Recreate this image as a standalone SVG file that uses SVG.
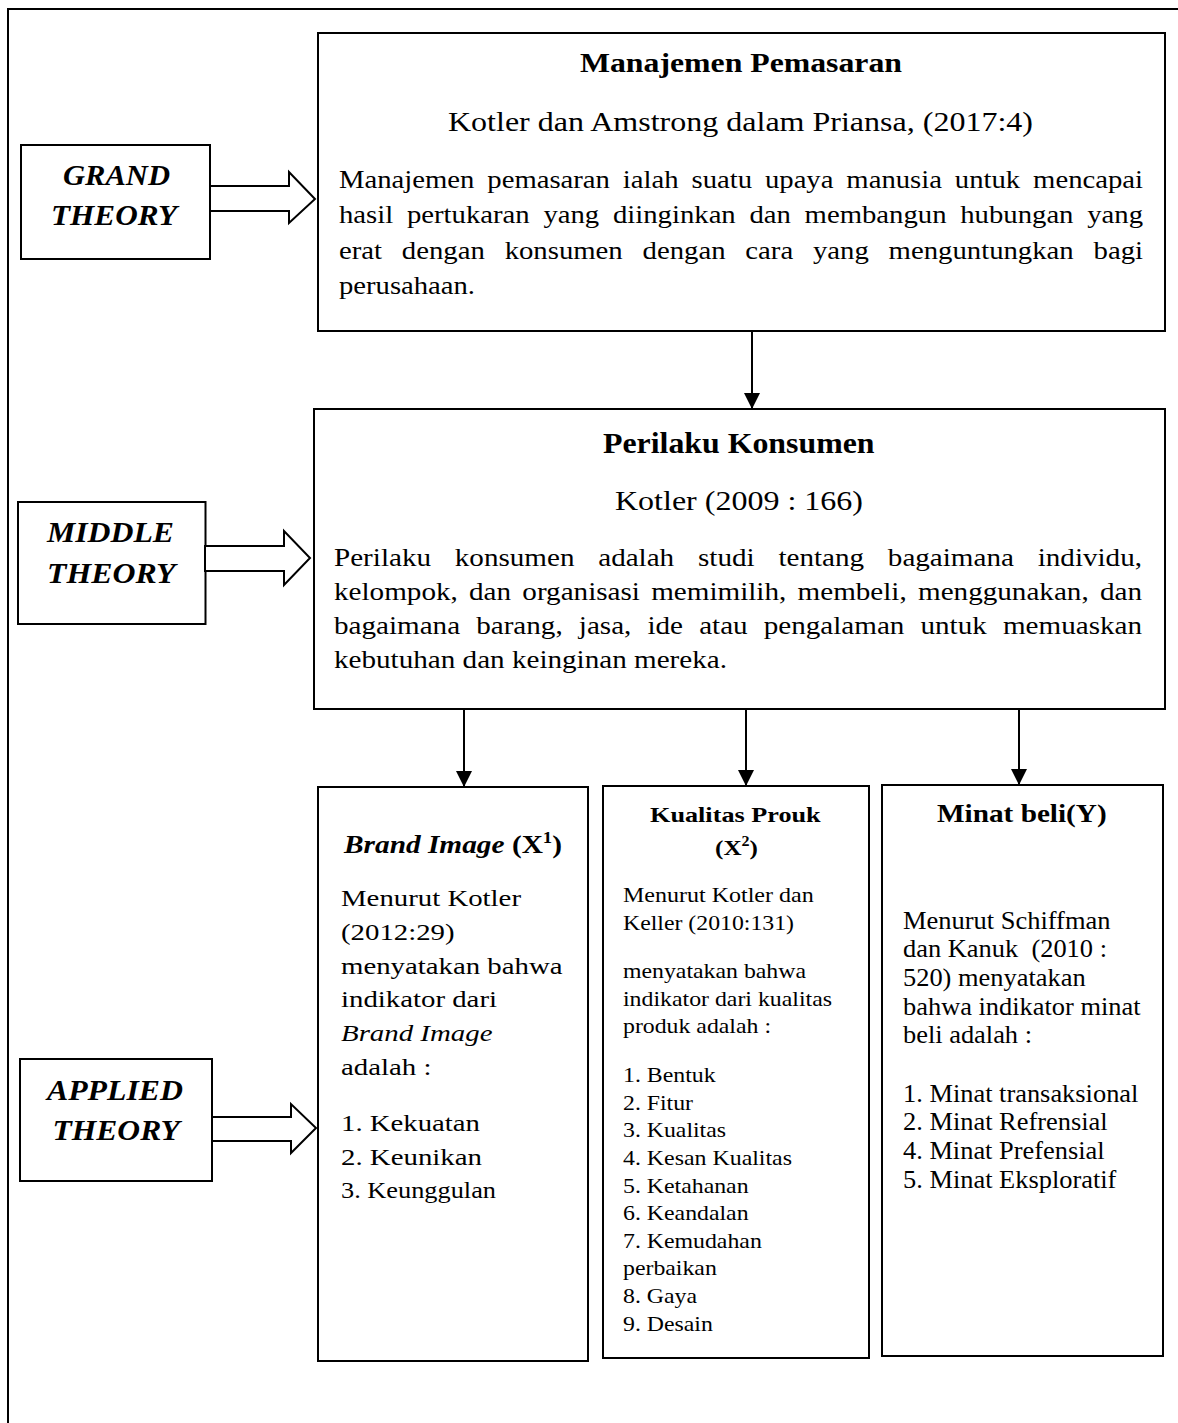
<svg xmlns="http://www.w3.org/2000/svg" width="1178" height="1423" viewBox="0 0 1178 1423">
<defs>
<style>
.box{fill:#fff;stroke:#000;stroke-width:2}
.t{font-family:"Liberation Serif","Times New Roman",serif;fill:#000}
.b{font-weight:bold}
.i{font-style:italic}
.conn{stroke:#000;stroke-width:2;fill:none}
.blk{fill:#fff;stroke:#000;stroke-width:2;stroke-linejoin:miter}
</style>
<marker id="ah" viewBox="0 0 16 16" refX="16" refY="8" markerWidth="16" markerHeight="16" markerUnits="userSpaceOnUse" orient="auto">
<path d="M0,0 L16,8 L0,16 z" fill="#000"/>
</marker>
</defs>
<rect x="0" y="0" width="1178" height="1423" fill="#fff"/>
<rect id="frame" x="8" y="9" width="1200" height="1440" fill="none" stroke="#000" stroke-width="2"/>

<g id="grand-theory">
<rect class="box" x="21" y="145" width="189" height="114"/>
<text class="t b i" font-size="30" x="63" y="185" textLength="107" lengthAdjust="spacingAndGlyphs">GRAND</text>
<text class="t b i" font-size="30" x="51" y="225" textLength="126" lengthAdjust="spacingAndGlyphs">THEORY</text>
</g>

<g id="middle-theory">
<rect class="box" x="18" y="502" width="187.5" height="122"/>
<text class="t b i" font-size="30" x="47" y="542" textLength="127" lengthAdjust="spacingAndGlyphs">MIDDLE</text>
<text class="t b i" font-size="30" x="47" y="583" textLength="128.5" lengthAdjust="spacingAndGlyphs">THEORY</text>
</g>

<g id="applied-theory">
<rect class="box" x="20" y="1059" width="192" height="122"/>
<text class="t b i" font-size="30" x="47" y="1100" textLength="136" lengthAdjust="spacingAndGlyphs">APPLIED</text>
<text class="t b i" font-size="30" x="52.5" y="1140" textLength="127.4" lengthAdjust="spacingAndGlyphs">THEORY</text>
</g>

<g id="manajemen-pemasaran">
<rect class="box" x="318" y="33" width="847" height="298"/>
<text class="t b" font-size="27" x="580" y="71.5" textLength="322" lengthAdjust="spacingAndGlyphs">Manajemen Pemasaran</text>
<text class="t" font-size="27" x="448" y="131" textLength="585" lengthAdjust="spacingAndGlyphs">Kotler dan Amstrong dalam Priansa, (2017:4)</text>
<text class="t" font-size="25" x="339" y="187.5" textLength="804" lengthAdjust="spacingAndGlyphs" style="word-spacing:5px">Manajemen pemasaran ialah suatu upaya manusia untuk mencapai</text>
<text class="t" font-size="25" x="339" y="223" textLength="804" lengthAdjust="spacingAndGlyphs" style="word-spacing:5.7px">hasil pertukaran yang diinginkan dan membangun hubungan yang</text>
<text class="t" font-size="25" x="339" y="258.5" textLength="804" lengthAdjust="spacingAndGlyphs" style="word-spacing:11px">erat dengan konsumen dengan cara yang menguntungkan bagi</text>
<text class="t" font-size="25" x="339" y="294" textLength="136" lengthAdjust="spacingAndGlyphs">perusahaan.</text>
</g>

<g id="perilaku-konsumen">
<rect class="box" x="314" y="409" width="851" height="300"/>
<text class="t b" font-size="28.5" x="603" y="453" textLength="271.5" lengthAdjust="spacingAndGlyphs">Perilaku Konsumen</text>
<text class="t" font-size="27" x="615" y="510" textLength="248" lengthAdjust="spacingAndGlyphs">Kotler (2009 : 166)</text>
<text class="t" font-size="25" x="334" y="566" textLength="808" lengthAdjust="spacingAndGlyphs" style="word-spacing:14.2px">Perilaku konsumen adalah studi tentang bagaimana individu,</text>
<text class="t" font-size="25" x="334" y="600" textLength="808" lengthAdjust="spacingAndGlyphs" style="word-spacing:3.4px">kelompok, dan organisasi memimilih, membeli, menggunakan, dan</text>
<text class="t" font-size="25" x="334" y="634" textLength="808" lengthAdjust="spacingAndGlyphs" style="word-spacing:7.6px">bagaimana barang, jasa, ide atau pengalaman untuk memuaskan</text>
<text class="t" font-size="25" x="334" y="668" textLength="393" lengthAdjust="spacingAndGlyphs">kebutuhan dan keinginan mereka.</text>
</g>

<g id="brand-image">
<rect class="box" x="318" y="787" width="270" height="574"/>
<text class="t b" font-size="25" x="344" y="853" textLength="218" lengthAdjust="spacingAndGlyphs"><tspan class="i">Brand Image</tspan> (X<tspan font-size="16" dy="-10">1</tspan><tspan dy="10">)</tspan></text>
<text class="t" font-size="24" x="341" y="906" textLength="180" lengthAdjust="spacingAndGlyphs">Menurut Kotler</text>
<text class="t" font-size="24" x="341" y="940" textLength="113.6" lengthAdjust="spacingAndGlyphs">(2012:29)</text>
<text class="t" font-size="24" x="341" y="974" textLength="221.5" lengthAdjust="spacingAndGlyphs">menyatakan bahwa</text>
<text class="t" font-size="24" x="341" y="1007" textLength="156" lengthAdjust="spacingAndGlyphs">indikator dari</text>
<text class="t i" font-size="24" x="341" y="1041" textLength="151.5" lengthAdjust="spacingAndGlyphs">Brand Image</text>
<text class="t" font-size="24" x="341" y="1075" textLength="90.4" lengthAdjust="spacingAndGlyphs">adalah :</text>
<text class="t" font-size="24" x="341" y="1131" textLength="139" lengthAdjust="spacingAndGlyphs">1. Kekuatan</text>
<text class="t" font-size="24" x="341" y="1165" textLength="141" lengthAdjust="spacingAndGlyphs">2. Keunikan</text>
<text class="t" font-size="24" x="341" y="1198" textLength="155" lengthAdjust="spacingAndGlyphs">3. Keunggulan</text>
</g>

<g id="kualitas-produk">
<rect class="box" x="603" y="786" width="266" height="572"/>
<text class="t b" font-size="22" x="650" y="822" textLength="170.7" lengthAdjust="spacingAndGlyphs">Kualitas Prouk</text>
<text class="t b" font-size="22" x="715" y="855" textLength="43" lengthAdjust="spacingAndGlyphs">(X<tspan font-size="14" dy="-9">2</tspan><tspan dy="9">)</tspan></text>
<text class="t" font-size="21" x="623" y="902" textLength="190.7" lengthAdjust="spacingAndGlyphs">Menurut Kotler dan</text>
<text class="t" font-size="21" x="623" y="930" textLength="171" lengthAdjust="spacingAndGlyphs">Keller (2010:131)</text>
<text class="t" font-size="21" x="623" y="978" textLength="183" lengthAdjust="spacingAndGlyphs">menyatakan bahwa</text>
<text class="t" font-size="21" x="623" y="1006" textLength="209" lengthAdjust="spacingAndGlyphs">indikator dari kualitas</text>
<text class="t" font-size="21" x="623" y="1033" textLength="148" lengthAdjust="spacingAndGlyphs">produk adalah :</text>
<text class="t" font-size="21" x="623" y="1082" textLength="92.6" lengthAdjust="spacingAndGlyphs">1. Bentuk</text>
<text class="t" font-size="21" x="623" y="1110" textLength="70" lengthAdjust="spacingAndGlyphs">2. Fitur</text>
<text class="t" font-size="21" x="623" y="1137" textLength="103" lengthAdjust="spacingAndGlyphs">3. Kualitas</text>
<text class="t" font-size="21" x="623" y="1165" textLength="169" lengthAdjust="spacingAndGlyphs">4. Kesan Kualitas</text>
<text class="t" font-size="21" x="623" y="1193" textLength="125.6" lengthAdjust="spacingAndGlyphs">5. Ketahanan</text>
<text class="t" font-size="21" x="623" y="1220" textLength="125.6" lengthAdjust="spacingAndGlyphs">6. Keandalan</text>
<text class="t" font-size="21" x="623" y="1248" textLength="138.8" lengthAdjust="spacingAndGlyphs">7. Kemudahan</text>
<text class="t" font-size="21" x="623" y="1275" textLength="93.8" lengthAdjust="spacingAndGlyphs">perbaikan</text>
<text class="t" font-size="21" x="623" y="1303" textLength="74" lengthAdjust="spacingAndGlyphs">8. Gaya</text>
<text class="t" font-size="21" x="623" y="1331" textLength="89.9" lengthAdjust="spacingAndGlyphs">9. Desain</text>
</g>

<g id="minat-beli">
<rect class="box" x="882" y="785" width="281" height="571"/>
<text class="t b" font-size="24.5" x="937" y="822" textLength="169.7" lengthAdjust="spacingAndGlyphs">Minat beli(Y)</text>
<text class="t" font-size="25.5" x="903" y="929" textLength="207.5" lengthAdjust="spacingAndGlyphs">Menurut Schiffman</text>
<text class="t" font-size="25.5" x="903" y="957" textLength="204" lengthAdjust="spacingAndGlyphs" xml:space="preserve">dan Kanuk  (2010 :</text>
<text class="t" font-size="25.5" x="903" y="986" textLength="182.6" lengthAdjust="spacingAndGlyphs">520) menyatakan</text>
<text class="t" font-size="25.5" x="903" y="1015" textLength="237.6" lengthAdjust="spacingAndGlyphs">bahwa indikator minat</text>
<text class="t" font-size="25.5" x="903" y="1043" textLength="129" lengthAdjust="spacingAndGlyphs">beli adalah :</text>
<text class="t" font-size="25.5" x="903" y="1102" textLength="235.4" lengthAdjust="spacingAndGlyphs">1. Minat transaksional</text>
<text class="t" font-size="25.5" x="903" y="1130" textLength="204.6" lengthAdjust="spacingAndGlyphs">2. Minat Refrensial</text>
<text class="t" font-size="25.5" x="903" y="1159" textLength="201.6" lengthAdjust="spacingAndGlyphs">4. Minat Prefensial</text>
<text class="t" font-size="25.5" x="903" y="1188" textLength="213.4" lengthAdjust="spacingAndGlyphs">5. Minat Eksploratif</text>
</g>

<g id="connectors">
<path class="blk" d="M210,186 L289,186 L289,172 L315,199 L289,223 L289,211 L210,211 Z"/>
<path class="blk" d="M205,546 L284,546 L284,531 L310,558 L284,585 L284,571 L205,571 Z"/>
<path class="blk" d="M212,1117 L291,1117 L291,1104 L316,1128 L291,1153 L291,1141 L212,1141 Z"/>
<line class="conn" x1="752" y1="331" x2="752" y2="409" marker-end="url(#ah)"/>
<line class="conn" x1="464" y1="709" x2="464" y2="787" marker-end="url(#ah)"/>
<line class="conn" x1="746" y1="709" x2="746" y2="786" marker-end="url(#ah)"/>
<line class="conn" x1="1019" y1="709" x2="1019" y2="785" marker-end="url(#ah)"/>
</g>
</svg>
